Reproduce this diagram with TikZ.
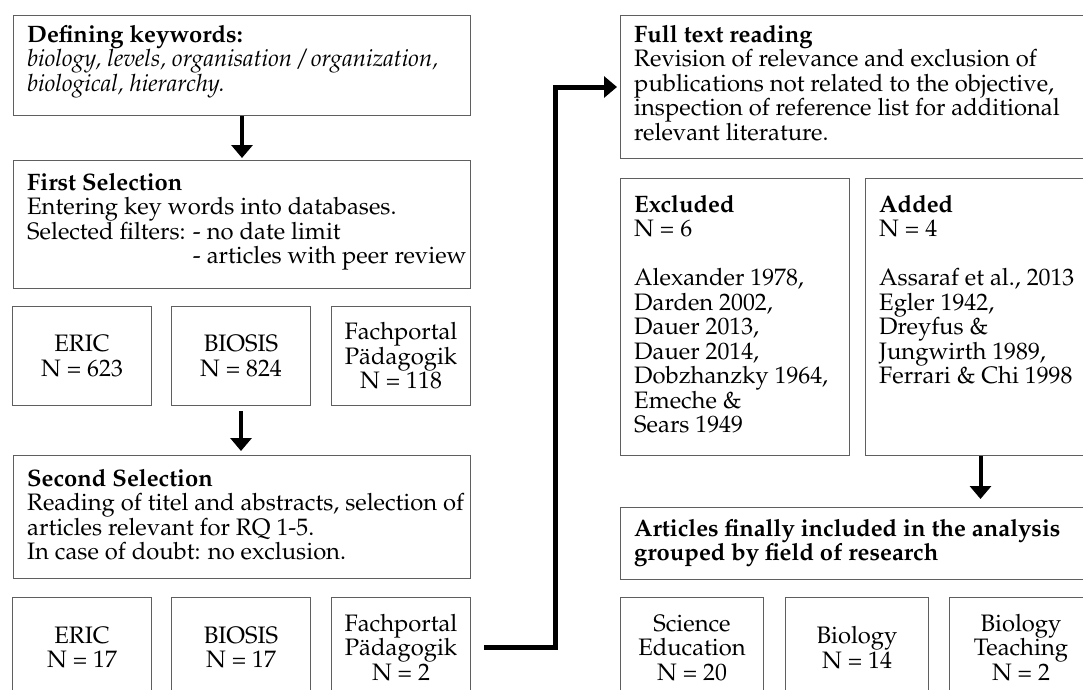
\documentclass[tikz,border=0pt]{standalone}
\usepackage[T1]{fontenc}
\usepackage{mathpazo}
\usetikzlibrary{arrows.meta}

\definecolor{boxgray}{RGB}{95,95,95}
\newcommand{\boxfont}{\fontsize{23.8}{24.5}\selectfont}

\begin{document}
\begin{tikzpicture}[x=1pt,y=-1pt,
    box/.style={draw=boxgray, line width=1pt, anchor=north west, inner sep=0pt},
    cell/.style={box, align=center, font=\boxfont},
    txt/.style={anchor=north west, inner sep=0pt, align=left, font=\boxfont},
    flow/.style={line width=4pt, -{Triangle[width=21pt,length=13pt]}},
    link/.style={line width=5pt, -{Triangle[width=21pt,length=13pt]}}]
    \useasboundingbox (0,0) rectangle (1083,689);
    \clip (0,0) rectangle (1083,689);

    % Left column
    \node[box, minimum width=457, minimum height=100] (kw) at (13,15) {};
    \node[txt] (kwtxt) at ([shift={(14,10)}]kw.north west) {\textbf{Defining keywords:}\\\textit{biology, levels, organisation / organization,}\\\textit{biological, hierarchy.}};
    \node[box, minimum width=457, minimum height=128] (fs) at (13,160) {};
    \node[txt] (fstxt) at ([shift={(14,13)}]fs.north west) {\textbf{First Selection}\\Entering key words into databases.\\Selected filters: - no date limit\\\hphantom{Selected filters: }- articles with peer review};

    % databases, first round
    \node[cell, minimum width=139, minimum height=99] (eric1) at (12,306) {ERIC\\N = 623};
    \node[cell, minimum width=139, minimum height=99] (bio1) at (171,306) {BIOSIS\\N = 824};
    \node[cell, minimum width=139, minimum height=99] (fp1) at (331,306) {Fachportal\\P\"adagogik\\N = 118};

    \node[box, minimum width=457, minimum height=123] (ss) at (13,455) {};
    \node[txt] (sstxt) at ([shift={(14,14)}]ss.north west) {\textbf{Second Selection}\\Reading of titel and abstracts, selection of\\articles relevant for RQ 1-5.\\In case of doubt: no exclusion.};

    % databases, second round
    \node[cell, minimum width=139, minimum height=100] (eric2) at (12,597) {ERIC\\N = 17};
    \node[cell, minimum width=139, minimum height=100] (bio2) at (171,597) {BIOSIS\\N = 17};
    \node[cell, minimum width=139, minimum height=100] (fp2) at (331,597) {Fachportal\\P\"adagogik\\N = 2};

    % Right column
    \node[box, minimum width=480, minimum height=143] (full) at (620,15) {};
    \node[txt] (fulltxt) at ([shift={(14,10)}]full.north west) {\textbf{Full text reading}\\Revision of relevance and exclusion of\\publications not related to the objective,\\inspection of reference list for additional\\relevant literature.};
    \node[box, minimum width=229, minimum height=277] (excl) at (620,178) {};
    \node[txt] (excltxt) at ([shift={(14,17)}]excl.north west) {\textbf{Excluded}\\N = 6\\[24.5pt]Alexander 1978,\\Darden 2002,\\Dauer 2013,\\Dauer 2014,\\Dobzhanzky 1964,\\Emeche \&\\Sears 1949};
    \node[box, minimum width=230, minimum height=277] (added) at (865,178) {};
    \node[txt] (addedtxt) at ([shift={(14,17)}]added.north west) {\textbf{Added}\\N = 4\\[24.5pt]Assaraf et al., 2013\\Egler 1942,\\Dreyfus \&\\Jungwirth 1989,\\Ferrari \& Chi 1998};
    \node[box, minimum width=480, minimum height=72] (incl) at (620,507) {};
    \node[txt] (incltxt) at ([shift={(14,12)}]incl.north west) {\textbf{Articles finally included in the analysis}\\\textbf{grouped by field of research}};

    % fields of research
    \node[cell, minimum width=143, minimum height=100] (sci) at (620,597) {Science\\Education\\N = 20};
    \node[cell, minimum width=143, minimum height=100] (biol) at (785,597) {Biology\\N = 14};
    \node[cell, minimum width=143, minimum height=100] (teach) at (949,597) {Biology\\Teaching\\N = 2};

    % Connectors
    \draw[flow, shorten >=2pt] (kw.south) -- (fs.north);
    \draw[flow, shorten <=5pt, shorten >=4pt] (bio1.south) -- (bio1.south |- ss.north);
    \draw[flow, shorten >=8pt] (added.south) -- (added.south |- incl.north);
    \draw[link, shorten >=3pt] ([xshift=13pt]fp2.east) -- ++(71,0) |- (full.west);
\end{tikzpicture}
\end{document}
